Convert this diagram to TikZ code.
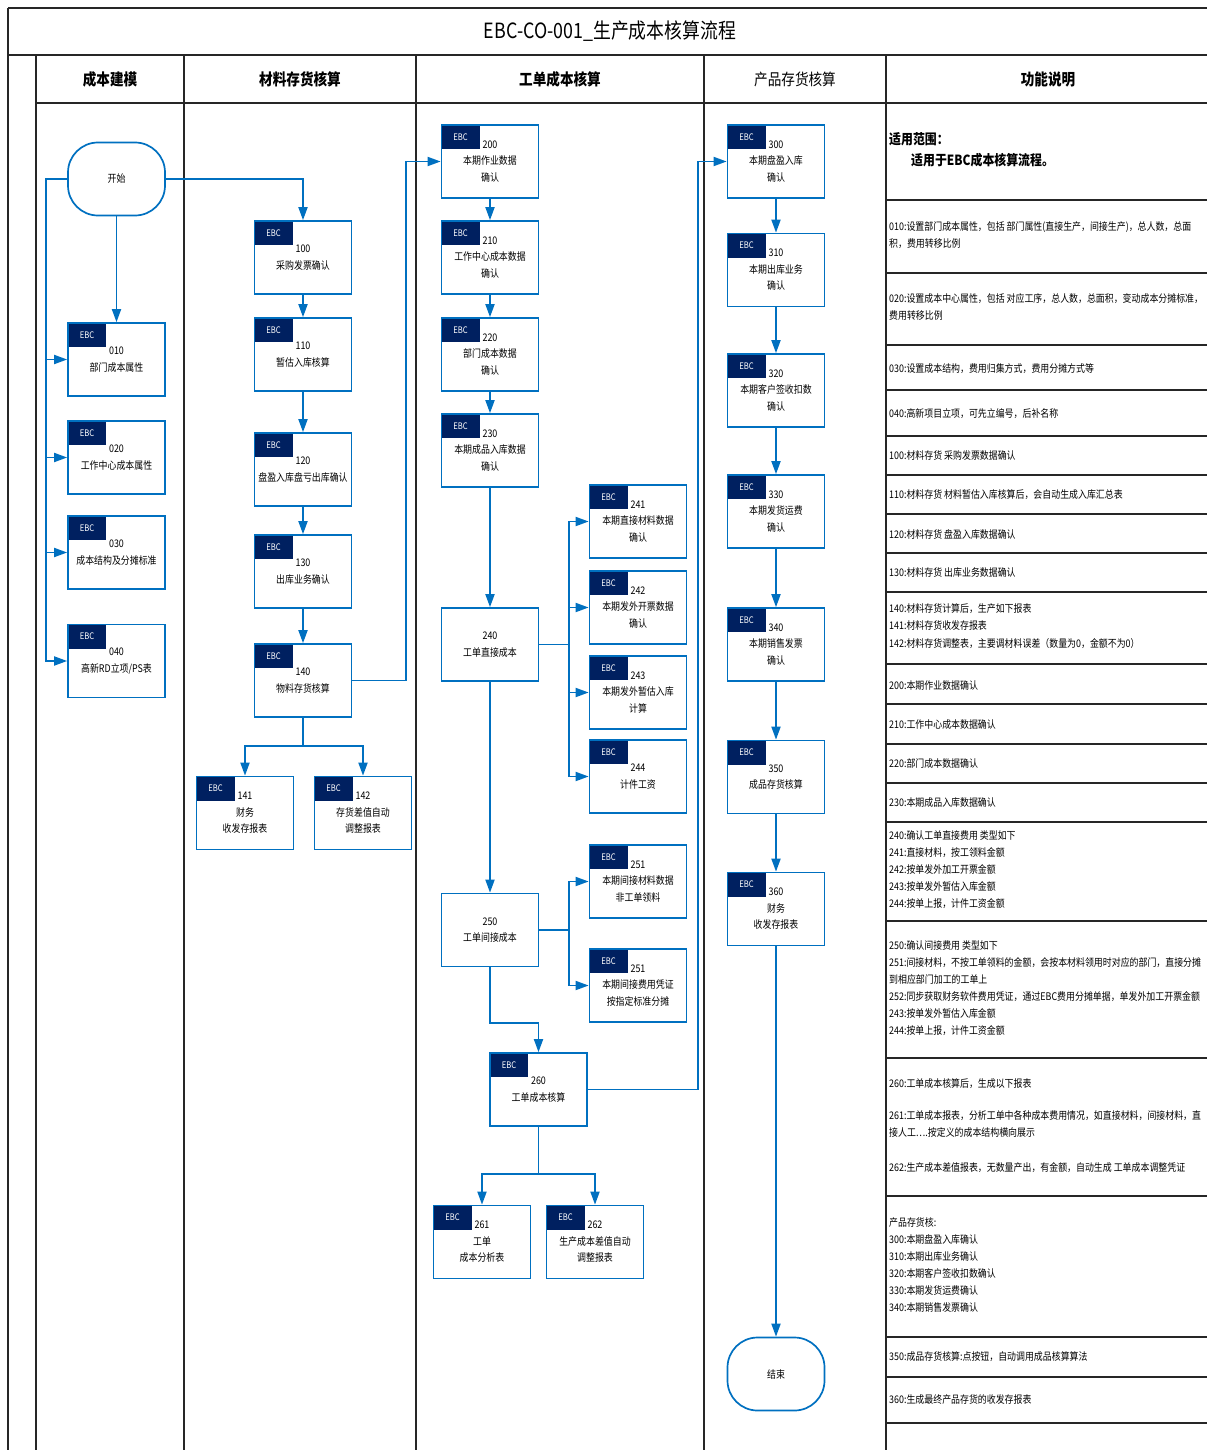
\documentclass[tikz,border=0pt]{standalone}
\usepackage{fontspec}
\setmainfont[FakeStretch=0.85]{Noto Sans CJK SC}
\usetikzlibrary{arrows.meta}

\definecolor{flowblue}{RGB}{0,112,192}
\definecolor{tagnavy}{RGB}{0,32,96}

\tikzset{
  frame/.style={draw=black!85, line width=1.3pt},
  proc/.style={draw=flowblue, line width=1.7pt, fill=white, minimum width=97pt, minimum height=73pt,
    inner sep=0pt, align=center, font=\fontsize{10.5}{16.5}\selectfont},
  ebc/.style={proc, path picture={
      \fill[tagnavy] (path picture bounding box.north west) rectangle ++(38,24);
      \node[text=white, font=\fontsize{9}{9}\selectfont] at ([shift={(19,12)}]path picture bounding box.north west) {EBC};}},
  terminal/.style={proc, rounded corners=30pt},
  flow/.style={draw=flowblue, line width=1.8pt, -{Triangle[length=13pt,width=9pt]}},
  link/.style={draw=flowblue, line width=1.8pt},
  lane/.style={font=\fontsize{16}{16}\selectfont\bfseries},
  note/.style={anchor=north west, inner sep=0pt, align=left, font=\fontsize{10.5}{17.5}\selectfont}
}

\begin{document}
\begin{tikzpicture}[x=1pt, y=-1pt]
  \useasboundingbox (0,0) rectangle (1207,1450);

  % frame of the sheet
  \draw[frame] (8,8) -- (1207,8);
  \draw[frame] (8,55) -- (1207,55);
  \draw[frame] (36,103) -- (1207,103);
  \draw[frame] (8,8) -- (8,1450);
  \draw[frame] (36,55) -- (36,1450);
  \draw[frame] (184,55) -- (184,1450);
  \draw[frame] (416,55) -- (416,1450);
  \draw[frame] (704,55) -- (704,1450);
  \draw[frame] (886,55) -- (886,1450);
  \foreach \y in {200,273,345,390,436,475,514,553,592,664,704,744,783,822,921,1058,1196,1337,1377,1423}
    \draw[frame] (886,\y) -- (1207,\y);

  \node[font=\fontsize{21}{21}\selectfont] (title) at (610,31) {EBC-CO-001\_生产成本核算流程};
  \node[lane] (lane1) at (110,79) {成本建模};
  \node[lane] (lane2) at (300,79) {材料存货核算};
  \node[lane] (lane3) at (560,79) {工单成本核算};
  \node[lane, font=\fontsize{16}{16}\selectfont\mdseries] (lane4) at (795,79) {产品存货核算};
  \node[lane] (lane5) at (1048,79) {功能说明};

  % 成本建模
  \node[terminal] (start) at (116.5,179) {开始};
  \node[ebc] (b010) at (116.5,359.5) {010\\部门成本属性};
  \node[ebc] (b020) at (116.5,457.5) {020\\工作中心成本属性};
  \node[ebc] (b030) at (116.5,552.5) {030\\成本结构及分摊标准};
  \node[ebc] (b040) at (116.5,661) {040\\高新RD立项/PS表};

  % 材料存货核算
  \node[ebc] (b100) at (303,257.5) {100\\采购发票确认};
  \node[ebc] (b110) at (303,354.5) {110\\暂估入库核算};
  \node[ebc] (b120) at (303,469.5) {120\\盘盈入库盘亏出库确认};
  \node[ebc] (b130) at (303,571.5) {130\\出库业务确认};
  \node[ebc] (b140) at (303,680.5) {140\\物料存货核算};
  \node[ebc] (b141) at (245,813) {141\\财务\\收发存报表};
  \node[ebc] (b142) at (363,813) {142\\存货差值自动\\调整报表};

  % 工单成本核算
  \node[ebc] (b200) at (490,161.5) {200\\本期作业数据\\确认};
  \node[ebc] (b210) at (490,257.5) {210\\工作中心成本数据\\确认};
  \node[ebc] (b220) at (490,354.5) {220\\部门成本数据\\确认};
  \node[ebc] (b230) at (490,450.5) {230\\本期成品入库数据\\确认};
  \node[proc] (b240) at (490,644.5) {240\\工单直接成本};
  \node[ebc] (b241) at (638,521.5) {241\\本期直接材料数据\\确认};
  \node[ebc] (b242) at (638,607.5) {242\\本期发外开票数据\\确认};
  \node[ebc] (b243) at (638,692.5) {243\\本期发外暂估入库\\计算};
  \node[ebc] (b244) at (638,776.5) {244\\计件工资};
  \node[proc] (b250) at (490,930) {250\\工单间接成本};
  \node[ebc] (b251a) at (638,881.5) {251\\本期间接材料数据\\非工单领料};
  \node[ebc] (b251b) at (638,985.5) {251\\本期间接费用凭证\\按指定标准分摊};
  \node[ebc] (b260) at (538.5,1089.5) {260\\工单成本核算};
  \node[ebc] (b261) at (482,1242) {261\\工单\\成本分析表};
  \node[ebc] (b262) at (595,1242) {262\\生产成本差值自动\\调整报表};

  % 产品存货核算
  \node[ebc] (b300) at (776,161.5) {300\\本期盘盈入库\\确认};
  \node[ebc] (b310) at (776,270) {310\\本期出库业务\\确认};
  \node[ebc] (b320) at (776,390.5) {320\\本期客户签收扣数\\确认};
  \node[ebc] (b330) at (776,511.5) {330\\本期发货运费\\确认};
  \node[ebc] (b340) at (776,644.5) {340\\本期销售发票\\确认};
  \node[ebc] (b350) at (776,777) {350\\成品存货核算};
  \node[ebc] (b360) at (776,909) {360\\财务\\收发存报表};
  \node[terminal] (stop) at (776,1374) {结束};

  % connectors
  \draw[flow] (start.south) -- (b010.north);
  \draw[flow] (start.west) -- ++(-21,0) |- (b010.west);
  \draw[flow] (start.west) -- ++(-21,0) |- (b020.west);
  \draw[flow] (start.west) -- ++(-21,0) |- (b030.west);
  \draw[flow] (start.west) -- ++(-21,0) |- (b040.west);
  \draw[flow] (start.east) -| (b100.north);

  \draw[flow] (b100) -- (b110);
  \draw[flow] (b110) -- (b120);
  \draw[flow] (b120) -- (b130);
  \draw[flow] (b130) -- (b140);
  \draw[flow] (b140.east) -- ++(54,0) |- (b200.west);
  \draw[link] (b140.south) -- ++(0,28) coordinate (split140);
  \draw[flow] (split140) -| (b141.north);
  \draw[flow] (split140) -| (b142.north);

  \draw[flow] (b200) -- (b210);
  \draw[flow] (b210) -- (b220);
  \draw[flow] (b220) -- (b230);
  \draw[flow] (b230) -- (b240);
  \draw[flow] (b240.east) -- ++(30,0) |- (b241.west);
  \draw[flow] (b240.east) -- ++(30,0) |- (b242.west);
  \draw[flow] (b240.east) -- ++(30,0) |- (b243.west);
  \draw[flow] (b240.east) -- ++(30,0) |- (b244.west);
  \draw[flow] (b240) -- (b250);
  \draw[flow] (b250.east) -- ++(30,0) |- (b251a.west);
  \draw[flow] (b250.east) -- ++(30,0) |- (b251b.west);
  \draw[flow] (b250.south) -- ++(0,56) -| (b260.north);
  \draw[flow] (b260.east) -- ++(110,0) |- (b300.west);
  \draw[link] (b260.south) -- ++(0,47) coordinate (split260);
  \draw[flow] (split260) -| (b261.north);
  \draw[flow] (split260) -| (b262.north);

  \draw[flow] (b300) -- (b310);
  \draw[flow] (b310) -- (b320);
  \draw[flow] (b320) -- (b330);
  \draw[flow] (b330) -- (b340);
  \draw[flow] (b340) -- (b350);
  \draw[flow] (b350) -- (b360);
  \draw[flow] (b360) -- (stop);

  % 功能说明
  \node[note, font=\fontsize{14}{21}\selectfont\bfseries] (scope) at (889,132) {适用范围：\\\hspace*{22pt}适用于EBC成本核算流程。};
  \node[note] (note010) at (889,221) {010:设置部门成本属性，包括 部门属性(直接生产，间接生产)，总人数，总面\\积，费用转移比例};
  \node[note] (note020) at (889,293) {020:设置成本中心属性，包括 对应工序，总人数，总面积，变动成本分摊标准，\\费用转移比例};
  \node[note] (note030) at (889,363) {030:设置成本结构，费用归集方式，费用分摊方式等};
  \node[note] (note040) at (889,408) {040:高新项目立项，可先立编号，后补名称};
  \node[note] (note100) at (889,450) {100:材料存货 采购发票数据确认};
  \node[note] (note110) at (889,489) {110:材料存货 材料暂估入库核算后，会自动生成入库汇总表};
  \node[note] (note120) at (889,529) {120:材料存货 盘盈入库数据确认};
  \node[note] (note130) at (889,567) {130:材料存货 出库业务数据确认};
  \node[note] (note140) at (889,603) {140:材料存货计算后，生产如下报表\\141:材料存货收发存报表\\142:材料存货调整表，主要调材料误差（数量为0，金额不为0）};
  \node[note] (note200) at (889,680) {200:本期作业数据确认};
  \node[note] (note210) at (889,719) {210:工作中心成本数据确认};
  \node[note] (note220) at (889,758) {220:部门成本数据确认};
  \node[note] (note230) at (889,797) {230:本期成品入库数据确认};
  \node[note, font=\fontsize{10.5}{17}\selectfont] (note240) at (889,830) {240:确认工单直接费用 类型如下\\241:直接材料，按工领料金额\\242:按单发外加工开票金额\\243:按单发外暂估入库金额\\244:按单上报，计件工资金额};
  \node[note, font=\fontsize{10.5}{17}\selectfont] (note250) at (889,940) {250:确认间接费用 类型如下\\251:间接材料，不按工单领料的金额，会按本材料领用时对应的部门，直接分摊\\到相应部门加工的工单上\\252:同步获取财务软件费用凭证，通过EBC费用分摊单据，单发外加工开票金额\\243:按单发外暂估入库金额\\244:按单上报，计件工资金额};
  \node[note] (note260) at (889,1078) {260:工单成本核算后，生成以下报表};
  \node[note] (note261) at (889,1110) {261:工单成本报表，分析工单中各种成本费用情况，如直接材料，间接材料，直\\接人工….按定义的成本结构横向展示};
  \node[note] (note262) at (889,1162) {262:生产成本差值报表，无数量产出，有金额，自动生成 工单成本调整凭证};
  \node[note, font=\fontsize{10.5}{17}\selectfont] (note300) at (889,1217) {产品存货核:\\300:本期盘盈入库确认\\310:本期出库业务确认\\320:本期客户签收扣数确认\\330:本期发货运费确认\\340:本期销售发票确认};
  \node[note] (note350) at (889,1351) {350:成品存货核算:点按钮，自动调用成品核算算法};
  \node[note] (note360) at (889,1394) {360:生成最终产品存货的收发存报表};
\end{tikzpicture}
\end{document}
